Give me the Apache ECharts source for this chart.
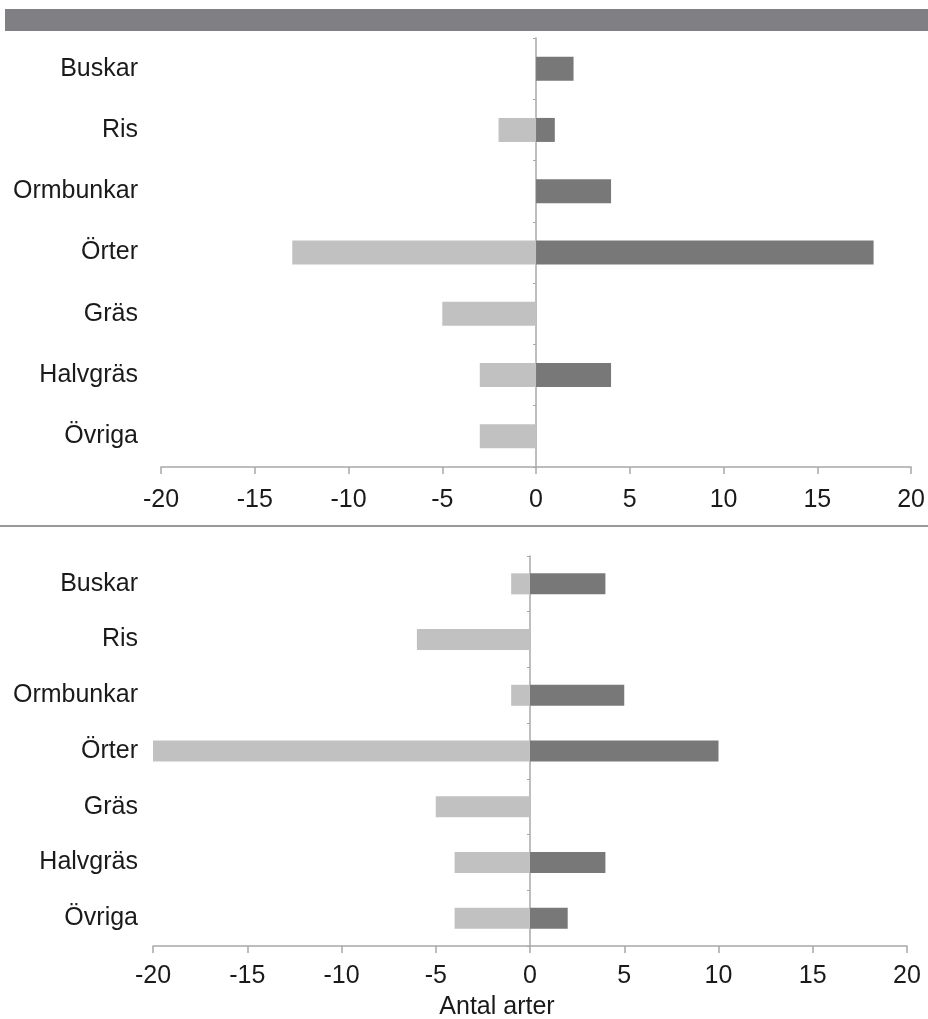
<!DOCTYPE html>
<html>
<head>
<meta charset="utf-8">
<script src="https://cdn.jsdelivr.net/npm/echarts@6/dist/echarts.min.js"></script>
<style>
html,body{margin:0;padding:0;background:#fff;}
#c{width:928px;height:1019px;}
</style>
</head>
<body>
<div id="c"></div>
<script>
const categories = ['Buskar', 'Ris', 'Ormbunkar', 'Örter', 'Gräs', 'Halvgräs', 'Övriga'];
const topNegative = [0, -2, 0, -13, -5, -3, -3];
const topPositive = [2, 1, 4, 18, 0, 4, 0];
const bottomNegative = [-1, -6, -1, -20, -5, -4, -4];
const bottomPositive = [4, 0, 5, 10, 0, 4, 2];
const xTicks = [-20, -15, -10, -5, 0, 5, 10, 15, 20];
const xAxisTitle = 'Antal arter';

const FONT = 'Liberation Sans, Arial, sans-serif';
const FS = 25;
const LIGHT = '#c1c1c1';
const DARK = '#787878';
const AXIS = '#a8a8a8';
const TEXT = '#1a1a1a';

function xAxisFor(gridIndex, margin) {
  return {
    type: 'value', gridIndex: gridIndex,
    min: xTicks[0], max: xTicks[xTicks.length - 1], interval: 5,
    splitLine: {show: false},
    axisLine: {show: true, onZero: false, lineStyle: {color: AXIS, width: 1.5}},
    axisTick: {show: true, length: 7, lineStyle: {color: AXIS, width: 1.5}},
    axisLabel: {color: TEXT, fontSize: FS, fontFamily: FONT, margin: margin,
      formatter: v => xTicks.indexOf(v) >= 0 ? String(v) : ''}
  };
}
function yLabelAxis(gridIndex, margin) {
  return {
    type: 'category', gridIndex: gridIndex, data: categories, inverse: true, position: 'left',
    axisLine: {show: false, onZero: false}, axisTick: {show: false},
    axisLabel: {color: TEXT, fontSize: FS, fontFamily: FONT, margin: margin, padding: [3, 0, 0, 0]}
  };
}
function yZeroAxis(gridIndex) {
  return {
    type: 'category', gridIndex: gridIndex, data: categories, inverse: true, position: 'left',
    axisLine: {show: true, onZero: true, lineStyle: {color: AXIS, width: 1.5}},
    axisTick: {show: true, length: 3, lineStyle: {color: AXIS}},
    axisLabel: {show: false}
  };
}
function bar(name, data, color, xi, yi, width) {
  return {
    type: 'bar', name: name, data: data, xAxisIndex: xi, yAxisIndex: yi,
    barWidth: width, barGap: '-100%',
    itemStyle: {color: color},
    silent: true
  };
}

const chart = echarts.init(document.getElementById('c'), null, {renderer: 'canvas'});
chart.setOption({
  animation: false,
  backgroundColor: '#ffffff',
  grid: [
    {left: 161, right: 16, top: 38, height: 429},
    {left: 153, right: 21, top: 556, height: 390}
  ],
  xAxis: [xAxisFor(0, 21), xAxisFor(1, 18)],
  yAxis: [yLabelAxis(0, 23), yZeroAxis(0), yLabelAxis(1, 15), yZeroAxis(1)],
  series: [
    bar('top-neg', topNegative, LIGHT, 0, 0, 24),
    bar('top-pos', topPositive, DARK, 0, 0, 24),
    bar('bot-neg', bottomNegative, LIGHT, 1, 2, 21),
    bar('bot-pos', bottomPositive, DARK, 1, 2, 21)
  ],
  graphic: [
    {type: 'rect', shape: {x: 5, y: 9, width: 923, height: 22}, style: {fill: '#807f83'}},
    {type: 'line', shape: {x1: 0, y1: 526, x2: 928, y2: 526}, style: {stroke: '#333333', lineWidth: 1}},
    {type: 'text', x: 497, y: 1007, style: {text: xAxisTitle, fill: TEXT, font: FS + 'px ' + FONT, align: 'center', verticalAlign: 'middle'}}
  ]
});
</script>
</body>
</html>
